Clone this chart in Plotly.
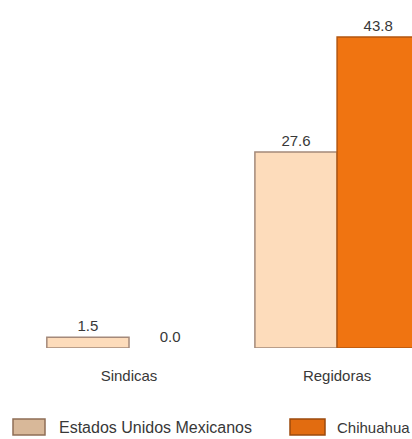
import plotly.graph_objects as go

# Percentage of women in municipal posts
categories = ["Sindicas", "Regidoras"]
series_names = ["Estados Unidos Mexicanos", "Chihuahua"]
mexico_values = [1.5, 27.6]
chihuahua_values = [0.0, 43.8]

W, H = 412, 439
MARGIN_B = 91
PLOT_H = H - MARGIN_B

light_fill = "#FDDCBB"
light_line = "#A4897A"
orange_fill = "#F07411"
orange_line = "#B3560F"
text_color = "#383838"
font_family = "Liberation Sans, Arial, sans-serif"

fig = go.Figure()
for name, vals, fill, line in [
    (series_names[0], mexico_values, light_fill, light_line),
    (series_names[1], chihuahua_values, orange_fill, orange_line),
]:
    # zero-height bars get no outline
    widths = [1.5 if v > 0 else 0 for v in vals]
    fig.add_trace(go.Bar(
        x=categories,
        y=vals,
        name=name,
        marker=dict(color=fill, line=dict(color=line, width=widths)),
        text=[f"{v:.1f}" for v in vals],
        textposition="outside",
        textfont=dict(size=15, color=text_color, family=font_family),
        cliponaxis=False,
        showlegend=False,
    ))


def px_x(p):
    return p / W


def px_y(p):
    return (PLOT_H - p) / PLOT_H


# Legend swatches and labels
legend_items = [
    (series_names[0], 13, 45, 57, 16, "#D8B899", "#8E6E55"),
    (series_names[1], 290, 325, 335, 15, "#E26C10", "#9C4A0C"),
]
shapes = []
annotations = []
for name, x0, x1, tx, size, fill, line in legend_items:
    shapes.append(dict(
        type="rect", xref="paper", yref="paper",
        x0=px_x(x0), x1=px_x(x1), y0=px_y(435), y1=px_y(419),
        fillcolor=fill, line=dict(color=line, width=1.5),
    ))
    annotations.append(dict(
        xref="paper", yref="paper", x=px_x(tx), y=px_y(427),
        xanchor="left", yanchor="middle", showarrow=False,
        text=name, font=dict(size=size, color=text_color, family=font_family),
    ))

fig.update_layout(
    width=W, height=H,
    margin=dict(l=0, r=0, t=0, b=MARGIN_B),
    paper_bgcolor="white", plot_bgcolor="white",
    barmode="group", bargap=0.21, bargroupgap=0,
    shapes=shapes, annotations=annotations,
    font=dict(family=font_family, color=text_color),
    xaxis=dict(
        range=[-0.62, 1.36], showgrid=False, zeroline=False,
        showline=False, ticks="", ticklabelstandoff=17,
        tickfont=dict(size=15, color=text_color, family=font_family),
    ),
    yaxis=dict(range=[0, 49], visible=False, showgrid=False, zeroline=False),
)

fig.write_html("out.html")
